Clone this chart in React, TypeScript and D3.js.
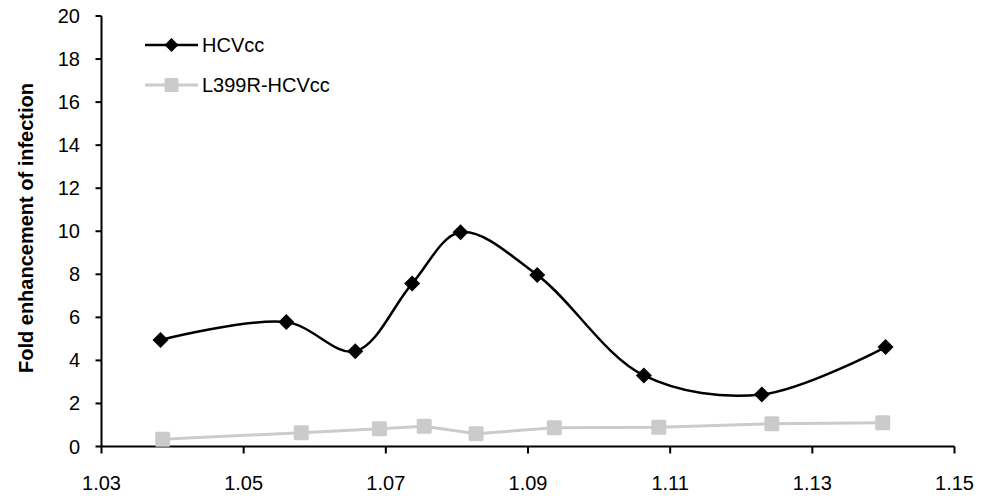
import React from "react";
import * as d3 from "d3";

const hcvX = [1.0383, 1.056, 1.0657, 1.0737, 1.0805, 1.0913, 1.1063, 1.1229, 1.1403];
const hcvY = [4.95, 5.78, 4.42, 7.57, 9.95, 7.97, 3.3, 2.42, 4.62];
const mutX = [1.0386, 1.0581, 1.0691, 1.0754, 1.0827, 1.0937, 1.1084, 1.1243, 1.1399];
const mutY = [0.34, 0.64, 0.82, 0.94, 0.59, 0.87, 0.9, 1.06, 1.1];
const xTicks = [1.03, 1.05, 1.07, 1.09, 1.11, 1.13, 1.15];
const yTicks = [0, 2, 4, 6, 8, 10, 12, 14, 16, 18, 20];
const seriesNames = ["HCVcc", "L399R-HCVcc"];
const yTitle = "Fold enhancement of infection";

const W = 981;
const H = 499;
const FONT = "Liberation Sans, Arial, sans-serif";
const GRAY = "#cbcbcb";

export default function App() {
  const x = d3.scaleLinear().domain([1.03, 1.15]).range([101.5, 954.5]);
  const y = d3.scaleLinear().domain([0, 20]).range([446.5, 16]);

  const hcv = hcvX.map((v, i) => [x(v), y(hcvY[i])] as [number, number]);
  const mut = mutX.map((v, i) => [x(v), y(mutY[i])] as [number, number]);

  const smooth = d3.line().curve(d3.curveCatmullRom.alpha(0.5));
  const straight = d3.line();

  const diamond = (cx: number, cy: number, r: number) =>
    `M${cx},${cy - r}L${cx + r},${cy}L${cx},${cy + r}L${cx - r},${cy}Z`;

  return (
    <svg width={W} height={H} style={{ position: "absolute", left: 0, top: 0 }}>
      <rect width={W} height={H} fill="#fff" />
      {/* axes */}
      <line x1={x(1.03)} x2={x(1.15)} y1={y(0)} y2={y(0)} stroke="#000" strokeWidth={2} />
      <line x1={x(1.03)} x2={x(1.03)} y1={y(0)} y2={y(20)} stroke="#000" strokeWidth={2} />
      {yTicks.map((t) => (
        <g key={"y" + t}>
          <line x1={x(1.03) - 6} x2={x(1.03)} y1={y(t)} y2={y(t)} stroke="#000" strokeWidth={2} />
          <text x={80} y={y(t)} dy="0.35em" textAnchor="end" fontFamily={FONT} fontSize={20} fill="#000">
            {t}
          </text>
        </g>
      ))}
      {xTicks.map((t) => (
        <g key={"x" + t}>
          <line x1={x(t)} x2={x(t)} y1={y(0)} y2={y(0) + 7} stroke="#000" strokeWidth={2} />
          <text x={x(t)} y={483} dy="0.35em" textAnchor="middle" fontFamily={FONT} fontSize={20} fill="#000">
            {t.toFixed(2)}
          </text>
        </g>
      ))}
      <text
        transform={`translate(33,228) rotate(-90)`}
        textAnchor="middle"
        fontFamily={FONT}
        fontSize={20}
        fontWeight="bold"
        fill="#000"
      >
        {yTitle}
      </text>

      {/* series 2 */}
      <path d={straight(mut) || ""} fill="none" stroke={GRAY} strokeWidth={3} />
      {mut.map(([cx, cy], i) => (
        <rect key={"m" + i} x={cx - 7.5} y={cy - 7.5} width={15} height={15} rx={1.5} fill={GRAY} />
      ))}
      {/* series 1 */}
      <path d={smooth(hcv) || ""} fill="none" stroke="#000" strokeWidth={2.5} />
      {hcv.map(([cx, cy], i) => (
        <path key={"h" + i} d={diamond(cx, cy, 8)} fill="#000" />
      ))}

      {/* legend */}
      <line x1={145} x2={198} y1={45} y2={45} stroke="#000" strokeWidth={2.5} />
      <path d={diamond(171.5, 45, 7)} fill="#000" />
      <text x={202} y={45} dy="0.35em" fontFamily={FONT} fontSize={20} fill="#000">
        {seriesNames[0]}
      </text>
      <line x1={145} x2={198} y1={85} y2={85} stroke={GRAY} strokeWidth={3} />
      <rect x={164.5} y={78} width={14} height={14} rx={1.5} fill={GRAY} />
      <text x={202} y={85} dy="0.35em" fontFamily={FONT} fontSize={20} fill="#000">
        {seriesNames[1]}
      </text>
    </svg>
  );
}
